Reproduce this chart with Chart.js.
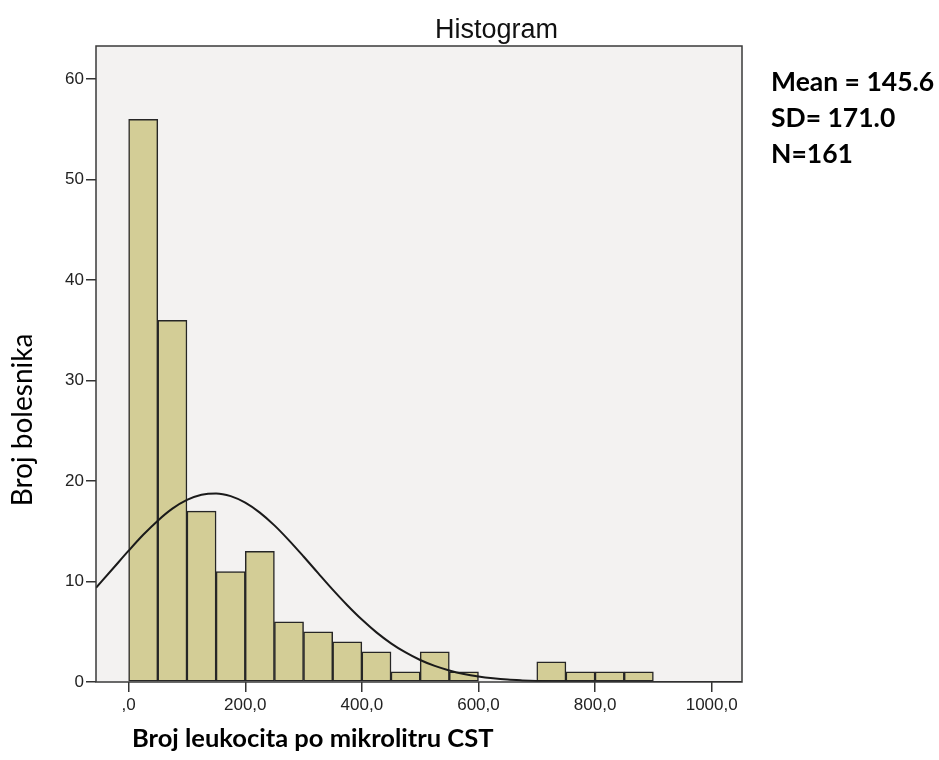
<!DOCTYPE html>
<html>
<head>
<meta charset="utf-8">
<title>Histogram</title>
<script src="https://cdn.jsdelivr.net/npm/chart.js@4.4.1/dist/chart.umd.min.js"></script>
<style>
  body { margin: 0; background: #ffffff; }
  canvas { display: block; }
</style>
</head>
<body>
<canvas id="myChart" width="939" height="760"></canvas>
<script>
// bins of 50 cells/µl, counts per bin
const binStart = [0, 50, 100, 150, 200, 250, 300, 350, 400, 450, 500, 550, 600, 650, 700, 750, 800, 850];
const counts = [56, 36, 17, 11, 13, 6, 5, 4, 3, 1, 3, 1, 0, 0, 2, 1, 1, 1];

// normal curve drawn over the bars
const curveX = [-56, -25, 0, 25, 50, 75, 100, 125, 150, 175, 200, 225, 250, 275, 300, 325, 350, 375, 400,
  425, 450, 475, 500, 525, 550, 575, 600, 625, 650, 675, 700, 725, 750, 775, 800, 850, 900, 950, 1000, 1052];
const curveY = [9.37, 11.42, 13.07, 14.65, 16.06, 17.25, 18.12, 18.64, 18.77, 18.5, 17.85, 16.86, 15.59, 14.1,
  12.49, 10.83, 9.19, 7.64, 6.21, 4.94, 3.85, 2.94, 2.19, 1.6, 1.15, 0.8, 0.55, 0.37, 0.24, 0.16, 0.1, 0.06,
  0.04, 0.02, 0.01, 0, 0, 0, 0, 0];

const xTickValues = [0, 200, 400, 600, 800, 1000];
const xTickLabels = [",0", "200,0", "400,0", "600,0", "800,0", "1000,0"];
const yTickValues = [0, 10, 20, 30, 40, 50, 60];

const chartTitle = "Histogram";
const yTitle = "Broj bolesnika";
const xTitle = "Broj leukocita po mikrolitru CST";
const statLines = ["Mean = 145.6", "SD= 171.0", "N=161"];

const binWidth = 50;
const barData = binStart.map((s, i) => ({ x: s + binWidth / 2, y: counts[i] }));
const lineData = curveX.map((x, i) => ({ x: x, y: curveY[i] }));

// grey plot background + frame, then the loose text around the plot
const plotFrame = {
  id: "plotFrame",
  beforeDatasetsDraw(chart) {
    const { ctx, chartArea: a } = chart;
    ctx.save();
    ctx.fillStyle = "#f3f2f1";
    ctx.fillRect(a.left, a.top, a.right - a.left, a.bottom - a.top);
    ctx.restore();
  },
  afterDatasetsDraw(chart) {
    const { ctx, chartArea: a } = chart;
    ctx.save();
    ctx.strokeStyle = "#3a3a3a";
    ctx.lineWidth = 1.5;
    ctx.strokeRect(a.left, a.top, a.right - a.left, a.bottom - a.top);
    ctx.restore();
  },
  afterDraw(chart) {
    const ctx = chart.ctx;
    ctx.save();
    ctx.fillStyle = "#111111";
    ctx.textBaseline = "alphabetic";

    ctx.font = "27px 'Liberation Sans', Arial, sans-serif";
    ctx.fillText(chartTitle, 435, 38);

    ctx.fillStyle = "#000000";
    ctx.font = "bold 26.5px Lato, sans-serif";
    statLines.forEach((t, i) => ctx.fillText(t, 771, 91 + i * 36));

    ctx.font = "bold 25.5px Lato, sans-serif";
    ctx.fillText(xTitle, 132, 747);

    ctx.font = "28px Lato, sans-serif";
    ctx.translate(32, 420);
    ctx.rotate(-Math.PI / 2);
    ctx.textAlign = "center";
    ctx.fillText(yTitle, 0, 0);
    ctx.restore();
  }
};

Chart.defaults.font.family = "'Liberation Sans', Arial, sans-serif";
Chart.defaults.color = "#222222";

const ctx = document.getElementById("myChart").getContext("2d");
const myChart = new Chart(ctx, {
  type: "bar",
  data: {
    datasets: [
      {
        type: "line",
        data: lineData,
        borderColor: "#1a1a1a",
        borderWidth: 2,
        pointRadius: 0,
        cubicInterpolationMode: "monotone",
        fill: false,
        order: 0
      },
      {
        type: "bar",
        data: barData,
        backgroundColor: "#d3cd96",
        borderColor: "#262626",
        borderWidth: 1.5,
        borderSkipped: false,
        barPercentage: 1,
        categoryPercentage: 1,
        order: 1
      }
    ]
  },
  options: {
    responsive: false,
    animation: false,
    devicePixelRatio: 1,
    layout: { padding: { left: 0, top: 46, right: 197, bottom: 0 } },
    plugins: {
      legend: { display: false },
      tooltip: { enabled: false },
      title: { display: false }
    },
    scales: {
      x: {
        type: "linear",
        min: -56,
        max: 1052,
        offset: false,
        afterBuildTicks: (axis) => { axis.ticks = xTickValues.map((v) => ({ value: v })); },
        afterFit: (axis) => { axis.height = 78; },
        ticks: {
          padding: 3,
          maxRotation: 0,
          font: { size: 17 },
          callback: (v) => xTickLabels[xTickValues.indexOf(v)]
        },
        grid: { offset: false, drawOnChartArea: false, tickLength: 10, color: "#333333", lineWidth: 1.5 },
        border: { display: false }
      },
      y: {
        min: 0,
        max: 63.3,
        afterBuildTicks: (axis) => { axis.ticks = yTickValues.map((v) => ({ value: v })); },
        afterFit: (axis) => { axis.width = 96; },
        ticks: { padding: 2, font: { size: 17 } },
        grid: { drawOnChartArea: false, tickLength: 10, color: "#333333", lineWidth: 1.5 },
        border: { display: false }
      }
    }
  },
  plugins: [plotFrame]
});
</script>
</body>
</html>
